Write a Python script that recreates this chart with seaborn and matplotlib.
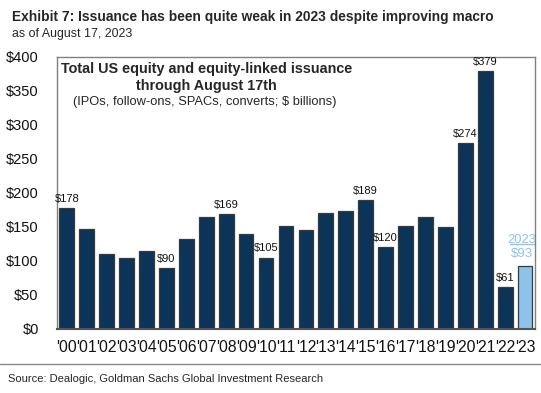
import matplotlib
matplotlib.use("Agg")
import matplotlib.pyplot as plt
import seaborn as sns
import pandas as pd

years = ["'00", "'01", "'02", "'03", "'04", "'05", "'06", "'07", "'08", "'09", "'10", "'11",
         "'12", "'13", "'14", "'15", "'16", "'17", "'18", "'19", "'20", "'21", "'22", "'23"]
issuance = [178, 147, 110, 104, 115, 90, 133, 165, 169, 140, 105, 152,
            146, 170, 173, 189, 120, 152, 164, 150, 274, 379, 61, 93]
labelled = ["'00", "'05", "'08", "'10", "'15", "'16", "'20", "'21", "'22"]
y_ticks = [0, 50, 100, 150, 200, 250, 300, 350, 400]

navy = "#0B3458"
light = "#8DC3EA"

sns.set_theme(style="white")
plt.rcParams["font.family"] = ["Liberation Sans", "DejaVu Sans"]

df = pd.DataFrame({"year": years, "value": issuance})
palette = {y: (light if y == "'23" else navy) for y in years}

fig = plt.figure(figsize=(5.41, 3.93), dpi=100)
ax = fig.add_axes([0.105, 0.163, 0.884, 0.692])

sns.barplot(data=df, x="year", y="value", hue="year", palette=palette, legend=False,
            width=0.74, edgecolor="#3a3a3a", linewidth=0.9, saturation=1, ax=ax)

# value labels on selected years
for i, (y, v) in enumerate(zip(years, issuance)):
    if y in labelled:
        ax.text(i, v + 6, f"${v}", ha="center", va="bottom", fontsize=8, color="#111111")

# 2023 callout (underlined year above the value)
last = len(years) - 1
ax.text(last - 0.15, issuance[-1] + 8, f"${issuance[-1]}", ha="center", va="bottom",
        fontsize=9.5, color=light)
ax.text(last - 0.15, issuance[-1] + 29, "2023", ha="center", va="bottom", fontsize=9.3, color=light)
ax.plot([last - 0.76, last + 0.45], [issuance[-1] + 31.5, issuance[-1] + 31.5], color=light, lw=1.0,
        clip_on=False)

ax.set_ylim(0, 400)
ax.set_xlim(-0.5, 23.5)
ax.set_yticks(y_ticks)
ax.set_yticklabels([f"${t}" for t in y_ticks], fontsize=10.5)
ax.tick_params(axis="x", labelsize=11.3, pad=8, length=0)
ax.tick_params(axis="y", pad=13, length=0)
for lbl in ax.get_xticklabels() + ax.get_yticklabels():
    lbl.set_color("#111111")
ax.set_xlabel("")
ax.set_ylabel("")

for side in ["left", "top", "right"]:
    ax.spines[side].set_color("#808080")
    ax.spines[side].set_linewidth(1.0)
ax.spines["bottom"].set_color("#555555")
ax.spines["bottom"].set_linewidth(1.5)

ax.text(0.313, 0.98, "Total US equity and equity-linked issuance\nthrough August 17th",
        transform=ax.transAxes, ha="center", va="top", fontsize=10.4, fontweight="bold",
        linespacing=1.25)
ax.text(0.31, 0.855, "(IPOs, follow-ons, SPACs, converts; $ billions)",
        transform=ax.transAxes, ha="center", va="top", fontsize=9.3)

fig.text(0.022, 0.975, "Exhibit 7: Issuance has been quite weak in 2023 despite improving macro",
         ha="left", va="top", fontsize=9.9, fontweight="bold")
fig.text(0.022, 0.928, "as of August 17, 2023", ha="left", va="top", fontsize=8.9)

fig.add_artist(plt.Line2D([0.0, 1.0], [0.074, 0.074], color="#888888", lw=1.0))
fig.text(0.014, 0.048, "Source: Dealogic, Goldman Sachs Global Investment Research",
         ha="left", va="top", fontsize=8)

fig.savefig("out.png", dpi=100)
